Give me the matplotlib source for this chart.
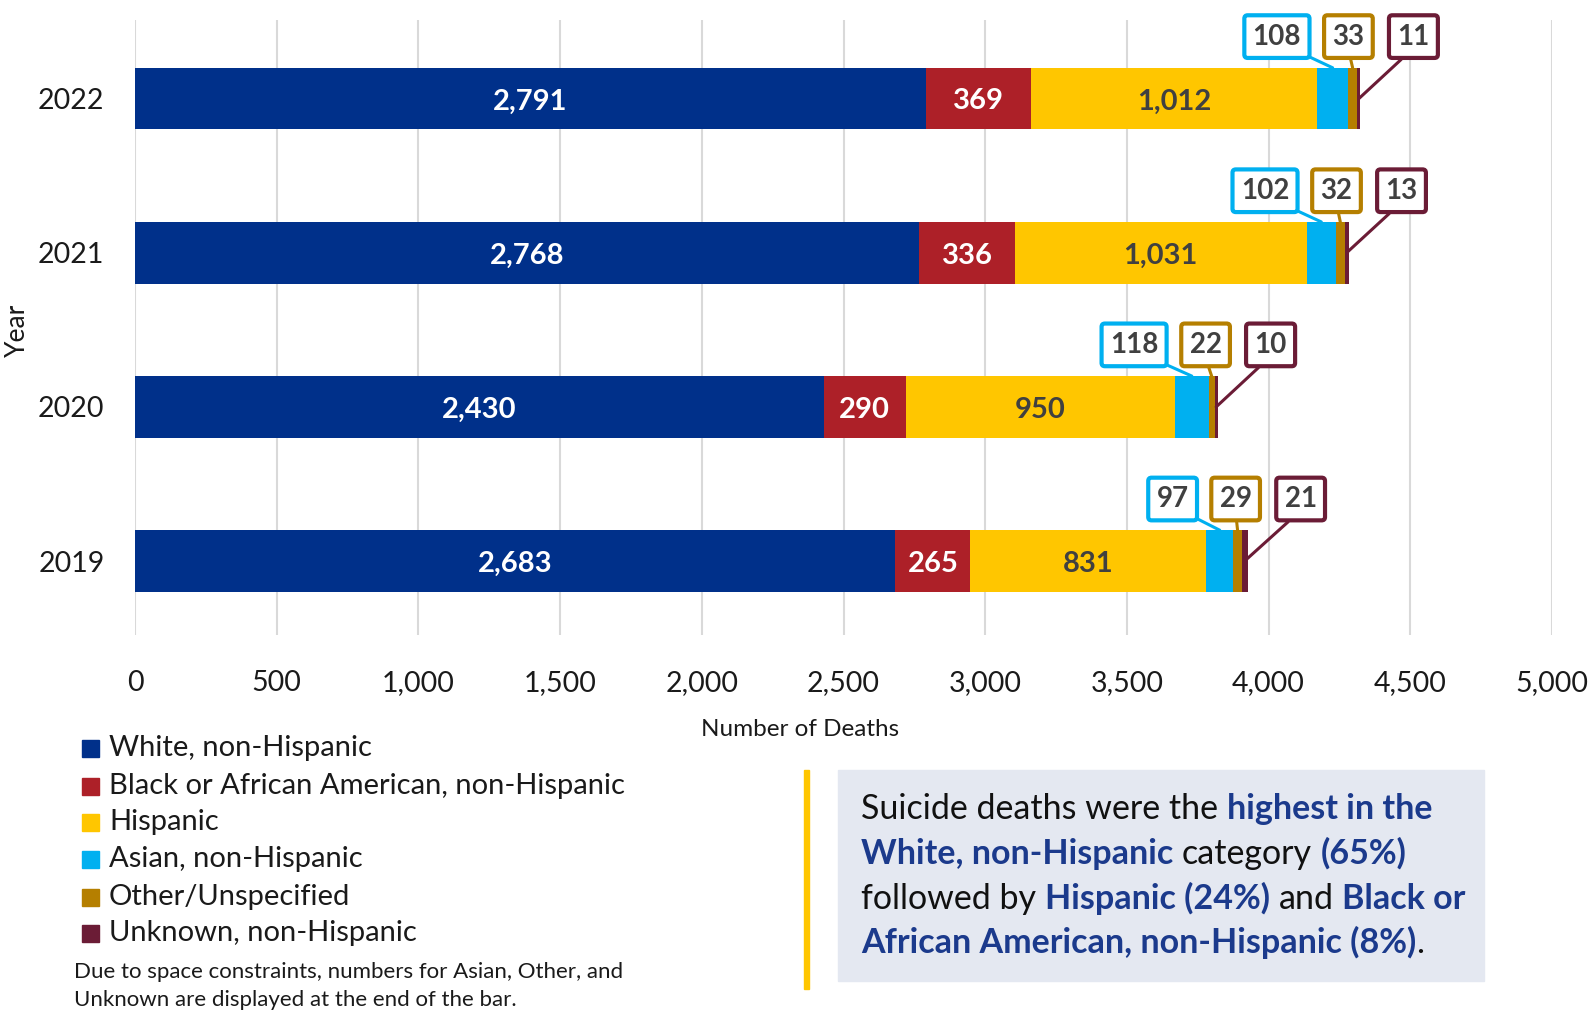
import matplotlib.pyplot as plt
from matplotlib.patches import Rectangle
from matplotlib.text import OffsetFrom
from matplotlib.ticker import FuncFormatter

plt.rcParams['font.family'] = ['Lato', 'DejaVu Sans']

years = ['2019', '2020', '2021', '2022']
categories = ['White, non-Hispanic', 'Black or African American, non-Hispanic',
              'Hispanic', 'Asian, non-Hispanic', 'Other/Unspecified',
              'Unknown, non-Hispanic']
white = [2683, 2430, 2768, 2791]
black = [265, 290, 336, 369]
hispanic = [831, 950, 1031, 1012]
asian = [97, 118, 102, 108]
other = [29, 22, 32, 33]
unknown = [21, 10, 13, 11]
series = [white, black, hispanic, asian, other, unknown]
colors = ['#00308A', '#AD2028', '#FFC600', '#00B0F0', '#B57F00', '#6B1C36']
inside_text = ['white', 'white', '#404040']

W, H = 1594, 1015
fig = plt.figure(figsize=(W / 100, H / 100), dpi=100)


def fx(px):
    return px / W


def fy(py):
    return 1 - py / H


ax = fig.add_axes([fx(135), fy(635), fx(1552) - fx(135), fy(20) - fy(635)])
ypos = list(range(len(years)))
bar_h = 0.4

left = [0] * len(years)
for k, (vals, col) in enumerate(zip(series, colors)):
    ax.barh(ypos, vals, left=left, height=bar_h, color=col, zorder=2)
    if k < 3:
        for i, v in enumerate(vals):
            ax.text(left[i] + v / 2, ypos[i] - 0.018, f'{v:,}', ha='center', va='center',
                    color=inside_text[k], fontsize=21, fontweight='bold', zorder=3)
    left = [l + v for l, v in zip(left, vals)]
totals = left

# callout boxes for the three thin segments at the end of each bar
box_w = {2: 52, 3: 69}
for i in range(len(years)):
    end = totals[i]
    seg_a = end - unknown[i] - other[i] - asian[i] / 2
    seg_o = end - unknown[i] - other[i] / 2
    seg_u = end - unknown[i] / 2
    wa = box_w[len(str(asian[i]))]
    wo = box_w[len(str(other[i]))]
    wu = box_w[len(str(unknown[i]))]
    cx_o = -12
    cx_a = cx_o - wo / 2 - 11 - wa / 2
    cx_u = cx_o + wo / 2 + 13 + wu / 2
    specs = [
        (asian[i], colors[3], cx_a, (seg_a, ypos[i] + bar_h / 2), 0.85),
        (other[i], colors[4], cx_o, (seg_o, ypos[i] + bar_h / 2), 0.5),
        (unknown[i], colors[5], cx_u, (seg_u, ypos[i]), 0.45),
    ]
    ref = OffsetFrom(ax.transData, (end, ypos[i]), unit='pixels')
    for val, col, dx, target, rx in specs:
        ax.annotate(str(val), xy=target, xycoords='data',
                    xytext=(dx, 62), textcoords=ref,
                    ha='center', va='center', fontsize=20, fontweight='bold',
                    color='#404040', zorder=5,
                    bbox=dict(boxstyle='round,pad=0.3,rounding_size=0.12',
                              fc='white', ec=col, lw=3),
                    arrowprops=dict(arrowstyle='-', color=col, lw=2.2,
                                    relpos=(rx, 0), shrinkA=0, shrinkB=0))

ax.set_xlim(0, 5000)
ax.set_ylim(-0.48, 3.51)
ax.set_xticks(range(0, 5001, 500))
ax.xaxis.set_major_formatter(FuncFormatter(lambda v, p: f'{int(v):,}'))
ax.set_yticks(ypos)
ax.set_yticklabels(years)
ax.tick_params(axis='x', length=0, pad=25, labelsize=20.5, labelcolor='#1a1a1a')
ax.tick_params(axis='y', length=0, pad=22, labelsize=20.5, labelcolor='#1a1a1a')
ax.grid(axis='x', color='#D9D9D9', lw=1.5, zorder=0)
for s in ax.spines.values():
    s.set_visible(False)

fig.text(fx(17), fy(330), 'Year', rotation=90, ha='center', va='center',
         fontsize=19, color='#1a1a1a')
fig.text(fx(800), fy(729), 'Number of Deaths', ha='center', va='center',
         fontsize=17.5, color='#1a1a1a')

# legend
row_y = [748, 786, 822, 859, 897, 933]
for name, col, py in zip(categories, colors, row_y):
    fig.patches.append(Rectangle((fx(82), fy(py + 8.5)), fx(17), fy(0) - fy(17),
                                 transform=fig.transFigure, color=col))
    fig.text(fx(109), fy(py), name, ha='left', va='center', fontsize=21,
             color='#1a1a1a')
fig.text(fx(74), fy(972), 'Due to space constraints, numbers for Asian, Other, and',
         ha='left', va='center', fontsize=16, color='#1a1a1a')
fig.text(fx(74), fy(1000), 'Unknown are displayed at the end of the bar.',
         ha='left', va='center', fontsize=16, color='#1a1a1a')

# summary box
fig.patches.append(Rectangle((fx(804), fy(989)), fx(5), fy(770) - fy(989),
                             transform=fig.transFigure, color='#FFC600'))
fig.patches.append(Rectangle((fx(838), fy(981)), fx(1484) - fx(838), fy(770) - fy(981),
                             transform=fig.transFigure, color='#E4E8F1'))

summary_lines = [
    [('Suicide deaths were the', False), ('highest in the', True)],
    [('White, non-Hispanic', True), ('category', False), ('(65%)', True)],
    [('followed by', False), ('Hispanic (24%)', True), ('and', False), ('Black or', True)],
    [('African American, non-Hispanic (8%)', True), ('.', False)],
]
line_y = [808, 853, 898, 942]
renderer = fig.canvas.get_renderer()


def text_width(s, bold, size):
    t = fig.text(0, 0, s, fontsize=size, fontweight='bold' if bold else 'normal')
    w = t.get_window_extent(renderer).width
    t.remove()
    return w


fs = 24.5
space = text_width('a a', False, fs) - text_width('aa', False, fs)
for segs, py in zip(summary_lines, line_y):
    x = 861
    for j, (s, bold) in enumerate(segs):
        if j > 0 and not s.startswith('.'):
            x += space
        t = fig.text(fx(x), fy(py + 11), s, ha='left', va='baseline', fontsize=fs,
                     fontweight='bold' if bold else 'normal',
                     color='#1B3A8C' if bold else '#111111')
        x += t.get_window_extent(renderer).width

fig.savefig('out.png', dpi=100)
